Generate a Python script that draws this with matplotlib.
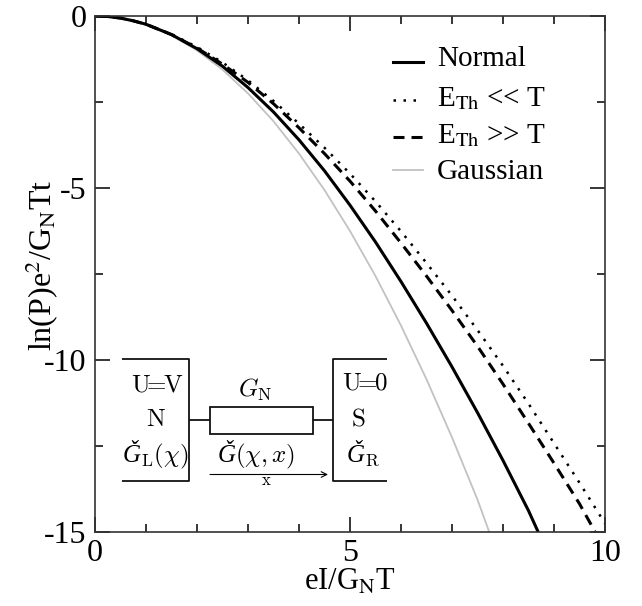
import matplotlib
matplotlib.use("Agg")
import matplotlib.pyplot as plt
from matplotlib.patches import Rectangle

plt.rcParams['font.family'] = ['Liberation Serif', 'DejaVu Serif']
plt.rcParams['mathtext.fontset'] = 'cm'

x_gauss = [0, 0.25, 0.5, 0.75, 1, 1.5, 2, 2.5, 3, 3.5, 4, 4.5, 5, 5.5, 6, 6.5, 7, 7.5, 7.73]
y_gauss = [0, -0.015, -0.06, -0.14, -0.25, -0.56, -1.0, -1.56, -2.25, -3.06, -4.0, -5.06,
           -6.25, -7.56, -9.0, -10.56, -12.25, -14.06, -15.0]
x_norm = [0, 0.25, 0.5, 0.75, 1, 1.5, 2, 2.5, 3, 3.5, 4, 4.5, 5, 5.5, 6, 6.5, 7, 7.5, 8, 8.5, 8.69]
y_norm = [0, -0.015, -0.06, -0.14, -0.24, -0.54, -0.95, -1.46, -2.08, -2.79, -3.6, -4.5,
          -5.5, -6.57, -7.72, -8.93, -10.2, -11.53, -12.92, -14.38, -15.0]
x_dash = [0, 0.25, 0.5, 0.75, 1, 1.5, 2, 2.5, 3, 3.5, 4, 4.5, 5, 5.5, 6, 6.5, 7, 7.5, 8, 8.5, 9, 9.5, 9.8]
y_dash = [0, -0.015, -0.06, -0.14, -0.24, -0.54, -0.93, -1.4, -1.93, -2.55, -3.25, -4.0,
          -4.8, -5.67, -6.6, -7.56, -8.56, -9.6, -10.7, -11.84, -13.0, -14.18, -14.98]
x_dot = [0, 0.25, 0.5, 0.75, 1, 1.5, 2, 2.5, 3, 3.5, 4, 4.5, 5, 5.5, 6, 6.5, 7, 7.5, 8, 8.5, 9, 9.5, 10]
y_dot = [0, -0.015, -0.06, -0.14, -0.24, -0.53, -0.9, -1.35, -1.87, -2.47, -3.13, -3.83,
         -4.58, -5.39, -6.26, -7.18, -8.13, -9.13, -10.17, -11.27, -12.42, -13.57, -14.75]
x_major = [0, 5, 10]
x_minor = [1, 2, 3, 4, 6, 7, 8, 9]
y_major = [0, -5, -10, -15]
y_minor = [-2.5, -7.5, -12.5]
y_labels = ['0', '-5', '-10', '-15']

W, H = 642, 606
L, R, T, B = 95, 605, 16, 532
GRAY = '#c2c2c2'
S_NORM = dict(color='black', lw=2.2)
S_DOT = dict(color='black', lw=1.8, dashes=(1, 3))
S_DASH = dict(color='black', lw=2.2, dashes=(3.6, 2.3))
S_GAUSS = dict(color=GRAY, lw=1.3)

fig = plt.figure(figsize=(W/100, H/100), dpi=100)
ax = fig.add_axes([L/W, 1-B/H, (R-L)/W, (B-T)/H])
ax.plot(x_gauss, y_gauss, **S_GAUSS)
ax.plot(x_norm, y_norm, **S_NORM)
ax.plot(x_dash, y_dash, **S_DASH)
ax.plot(x_dot, y_dot, **S_DOT)
ax.set_xlim(0, 10)
ax.set_ylim(-15, 0)
ax.set_xticks(x_major)
ax.set_yticks(y_major)
ax.set_yticklabels(y_labels)
ax.set_xticks(x_minor, minor=True)
ax.set_yticks(y_minor, minor=True)
ax.tick_params(which='major', direction='in', length=11, width=1.1, labelsize=23, top=True, right=True)
ax.tick_params(axis='x', which='major', pad=5)
ax.tick_params(axis='y', which='major', pad=6)
ax.tick_params(which='minor', direction='in', length=5.5, width=1.1, top=True, right=True)
for s in ax.spines.values():
    s.set_linewidth(1.2)
    s.set_color('#333333')
ax.set_xlabel(r'eI/G$_{\mathrm{N}}$T', fontsize=22, math_fontfamily='stix')
ax.xaxis.set_label_coords((350-L)/(R-L), -(568-B)/(B-T))
ax.set_ylabel(r'ln(P)e$^{2}$/G$_{\mathrm{N}}$Tt', fontsize=23, math_fontfamily='stix')
ax.yaxis.set_label_coords(-(L-61)/(R-L), 1-(265-T)/(B-T))

def px(x, y):
    return ((x-L)/(R-L)*10, -(y-T)/(B-T)*15)

# legend
rows = [('Normal', 62, 59, S_NORM),
        (r'E$_{\mathrm{Th}}$ << T', 100, 99, S_DOT),
        (r'E$_{\mathrm{Th}}$ >> T', 137, 136, S_DASH),
        ('Gaussian', 170, 172, S_GAUSS)]
for txt, yl, yt, st in rows:
    x0, yy = px(393, yl); x1, _ = px(423, yl)
    ax.plot([x0, x1], [yy, yy], **st)
    tx, ty = px(437, yt)
    ax.text(tx, ty, txt, fontsize=21, va='center', ha='left', math_fontfamily='stix')

# inset
def ln(xs, ys, lw=1.3):
    pts = [px(a, b) for a, b in zip(xs, ys)]
    ax.plot([p[0] for p in pts], [p[1] for p in pts], color='#111111', lw=lw, solid_capstyle='butt')
ln([122, 189, 189, 122], [359, 359, 481, 481])
ln([387, 333, 333, 387], [359, 359, 481, 481])
ln([189, 210], [420, 420]); ln([313, 333], [420, 420])
x0, y0 = px(210, 434); x1, y1 = px(313, 407)
ax.add_patch(Rectangle((x0, y0), x1-x0, y1-y0, fill=False, ec='#111111', lw=1.3))
ax.annotate('', xy=px(328, 474.5), xytext=px(210, 474.5),
            arrowprops=dict(arrowstyle='->', lw=0.8, color='black', shrinkA=0, shrinkB=0))
def t(x, y, s, fs=18, va='center', **kw):
    ax.text(*px(x, y), s, fontsize=fs, ha='center', va=va, math_fontfamily='cm', **kw)
CG = '\u01e6'
t(157, 385, r'$\mathrm{U}\!\!=\!\!\mathrm{V}$')
t(156, 420, r'$\mathrm{N}$')
t(155, 462, CG + r'$_{\mathrm{L}}(\chi)$', va='baseline', style='italic', family='Liberation Serif')
t(255, 390, r'$G_{\mathrm{N}}$')
t(256, 462, CG + r'$(\chi,x)$', va='baseline', style='italic', family='Liberation Serif')
t(266, 481, r'$\mathrm{x}$', 12)
t(365, 383, r'$\mathrm{U}\!\!=\!\!\mathrm{0}$')
t(358, 420, r'$\mathrm{S}$')
t(363, 462, CG + r'$_{\mathrm{R}}$', va='baseline', style='italic', family='Liberation Serif')
fig.savefig('out.png', dpi=100)
